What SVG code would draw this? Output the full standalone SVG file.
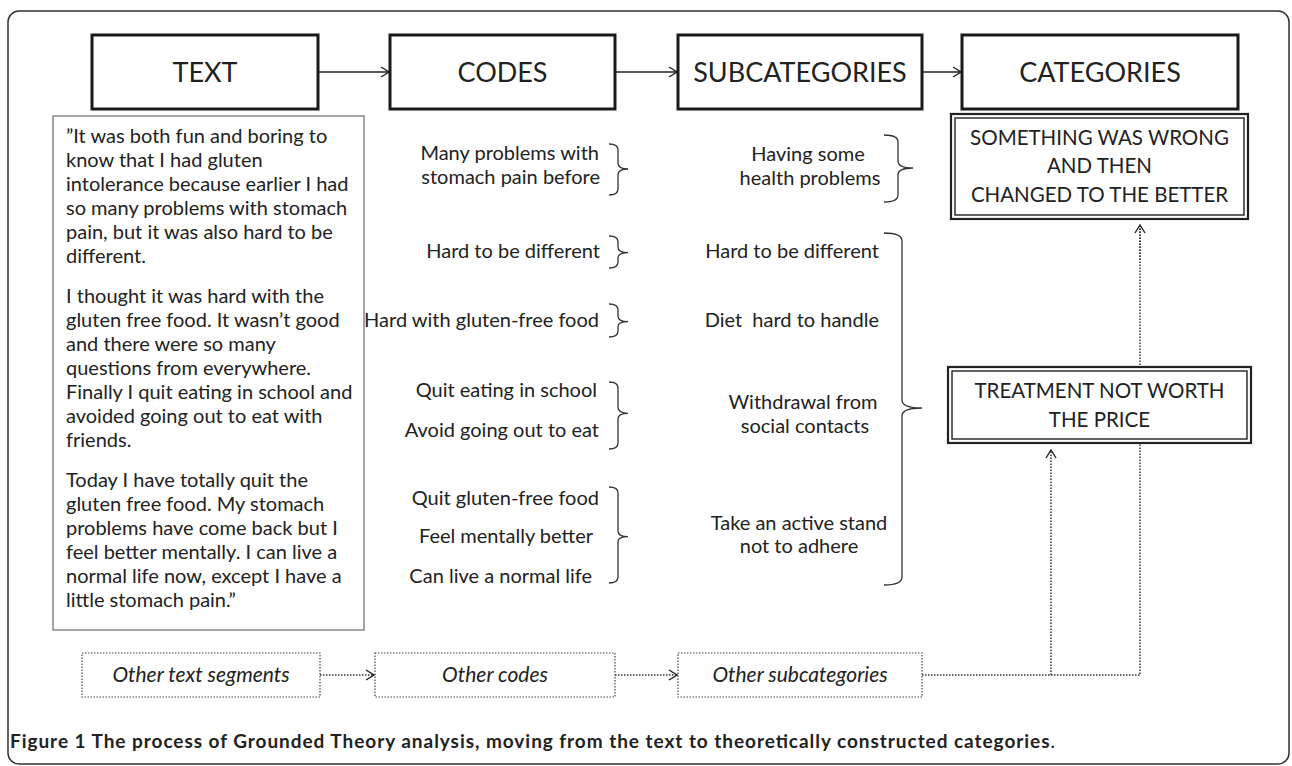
<svg xmlns="http://www.w3.org/2000/svg" width="1292" height="766" viewBox="0 0 1292 766">
<defs>
<style>
.frame{fill:none;stroke:#333;stroke-width:1.5}
.hbox{fill:#fff;stroke:#1a1a1a;stroke-width:3}
.htxt{font-family:Lato,"Liberation Sans",sans-serif;font-size:27px;fill:#222;text-anchor:middle}
.body{font-family:Lato,"Liberation Sans",sans-serif;font-size:20px;fill:#222}
.end{text-anchor:end}
.mid{text-anchor:middle}
.tbox{fill:#fff;stroke:#888;stroke-width:1.5}
.brace{fill:none;stroke:#333;stroke-width:1.3}
.dbo{fill:#fff;stroke:#222;stroke-width:2.2}
.dbi{fill:none;stroke:#222;stroke-width:1.4}
.ctxt{font-family:Lato,"Liberation Sans",sans-serif;font-size:20.5px;fill:#222;text-anchor:middle}
.conn{fill:none;stroke:#222;stroke-width:1.4}
.dot{fill:none;stroke:#333;stroke-width:1.5;stroke-dasharray:1.5 1.5}
.dbox{fill:#fff;stroke:#444;stroke-width:1.2;stroke-dasharray:1.5 1.5}
.itxt{font-family:Lato,"Liberation Sans",sans-serif;font-size:21px;font-style:italic;fill:#222;text-anchor:middle}
.cap{font-family:Lato,"Liberation Sans",sans-serif;font-size:19px;font-weight:bold;fill:#222}
</style>
<marker id="arr" markerWidth="10" markerHeight="12" refX="9" refY="6" orient="auto" markerUnits="userSpaceOnUse">
<path d="M1,1 L9,6 L1,11" fill="none" stroke="#222" stroke-width="1.4"/>
</marker>
</defs>
<rect width="1292" height="766" fill="#fff"/>
<rect class="frame" x="8" y="11" width="1281" height="753" rx="11"/>

<g id="connectors">
<line class="conn" x1="318" y1="72" x2="389" y2="72" marker-end="url(#arr)"/>
<line class="conn" x1="615" y1="72" x2="677" y2="72" marker-end="url(#arr)"/>
<line class="conn" x1="922" y1="72" x2="961" y2="72" marker-end="url(#arr)"/>
<path class="dot" d="M320,675 L374,675" marker-end="url(#arr)"/>
<path class="dot" d="M615,675 L677,675" marker-end="url(#arr)"/>
<path class="dot" d="M922,675 L1140,675 L1140,225"/>
<path class="dot" d="M1140,260 L1140,225" marker-end="url(#arr)"/>
<path class="dot" d="M1051,675 L1051,450" marker-end="url(#arr)"/>
</g>

<g id="h-text"><rect class="hbox" x="92" y="35" width="226" height="74"/><text class="htxt" x="205" y="82">TEXT</text></g>
<g id="h-codes"><rect class="hbox" x="390" y="35" width="225" height="74"/><text class="htxt" x="502.5" y="82">CODES</text></g>
<g id="h-subcategories"><rect class="hbox" x="678" y="35" width="244" height="74"/><text class="htxt" x="800" y="82">SUBCATEGORIES</text></g>
<g id="h-categories"><rect class="hbox" x="962" y="35" width="276" height="74"/><text class="htxt" x="1100" y="82">CATEGORIES</text></g>

<g id="text-box">
<rect class="tbox" x="53" y="116" width="311" height="514"/>
<text class="body">
<tspan x="66" y="143">”It was both fun and boring to</tspan>
<tspan x="66" y="167">know that I had gluten</tspan>
<tspan x="66" y="191">intolerance because earlier I had</tspan>
<tspan x="66" y="215">so many problems with stomach</tspan>
<tspan x="66" y="239">pain, but it was also hard to be</tspan>
<tspan x="66" y="263">different.</tspan>
<tspan x="66" y="303">I thought it was hard with the</tspan>
<tspan x="66" y="327">gluten free food. It wasn’t good</tspan>
<tspan x="66" y="351">and there were so many</tspan>
<tspan x="66" y="375">questions from everywhere.</tspan>
<tspan x="66" y="399">Finally I quit eating in school and</tspan>
<tspan x="66" y="423">avoided going out to eat with</tspan>
<tspan x="66" y="447">friends.</tspan>
<tspan x="66" y="487">Today I have totally quit the</tspan>
<tspan x="66" y="511">gluten free food. My stomach</tspan>
<tspan x="66" y="535">problems have come back but I</tspan>
<tspan x="66" y="559">feel better mentally. I can live a</tspan>
<tspan x="66" y="583">normal life now, except I have a</tspan>
<tspan x="66" y="607">little stomach pain.”</tspan>
</text>
</g>

<g id="code-1">
<text class="body end"><tspan x="599" y="160">Many problems with</tspan><tspan x="600" y="184">stomach pain before</tspan></text>
<path class="brace" d="M609,144 Q618,144 618,150 L618,163 Q618,169 628,169 Q618,169 618,175 L618,189 Q618,195 609,195"/>
</g>
<g id="code-2">
<text class="body end" x="600" y="258">Hard to be different</text>
<path class="brace" d="M609,236 Q618,236 618,242 L618,247 Q618,252.7 628,252.7 Q618,252.7 618,258 L618,262 Q618,268 609,268"/>
</g>
<g id="code-3">
<text class="body end" x="599" y="327">Hard with gluten-free food</text>
<path class="brace" d="M609,304 Q618,304 618,310 L618,316 Q618,321.7 628,321.7 Q618,321.7 618,327 L618,331 Q618,337 609,337"/>
</g>
<g id="code-4">
<text class="body end"><tspan x="597" y="397">Quit eating in school</tspan><tspan x="599" y="437">Avoid going out to eat</tspan></text>
<path class="brace" d="M609,382 Q618,382 618,388 L618,407 Q618,413.3 628,413.3 Q618,413.3 618,419 L618,443 Q618,449 609,449"/>
</g>
<g id="code-5">
<text class="body end"><tspan x="599" y="505">Quit gluten-free food</tspan><tspan x="593" y="543">Feel mentally better</tspan><tspan x="592" y="583">Can live a normal life</tspan></text>
<path class="brace" d="M609,487 Q618,487 618,493 L618,531 Q618,536.7 628,536.7 Q618,536.7 618,542 L618,577 Q618,583 609,583"/>
</g>

<g id="sub-1">
<text class="body mid"><tspan x="808" y="161">Having some</tspan><tspan x="810" y="185">health problems</tspan></text>
<path class="brace" d="M884,135 Q898,135 898,142 L898,161 Q898,168 913,168 Q898,168 898,175 L898,195 Q898,202 884,202"/>
</g>
<g id="sub-2"><text class="body end" x="879" y="258">Hard to be different</text></g>
<g id="sub-3"><text class="body end" x="879" y="327" xml:space="preserve">Diet  hard to handle</text></g>
<g id="sub-4"><text class="body mid"><tspan x="803" y="409">Withdrawal from</tspan><tspan x="805" y="433">social contacts</tspan></text></g>
<g id="sub-5"><text class="body mid"><tspan x="799" y="530">Take an active stand</tspan><tspan x="799" y="553">not to adhere</tspan></text></g>
<g id="sub-brace">
<path class="brace" d="M884,233 Q902,233 902,241 L902,400 Q902,408 922,408 Q902,408 902,416 L902,577 Q902,585 884,585"/>
</g>

<g id="cat-1">
<rect class="dbo" x="951" y="114" width="297" height="105"/>
<rect class="dbi" x="955" y="118" width="289" height="97"/>
<text class="ctxt"><tspan x="1099.5" y="145">SOMETHING WAS WRONG</tspan><tspan x="1099.5" y="173">AND THEN</tspan><tspan x="1099.5" y="202">CHANGED TO THE BETTER</tspan></text>
</g>
<g id="cat-2">
<rect class="dbo" x="948" y="367" width="303" height="76"/>
<rect class="dbi" x="952" y="371" width="295" height="68"/>
<text class="ctxt"><tspan x="1099.5" y="398">TREATMENT NOT WORTH</tspan><tspan x="1099.5" y="427">THE PRICE</tspan></text>
</g>

<g id="other-text"><rect class="dbox" x="82" y="653" width="238" height="44"/><text class="itxt" x="201" y="682">Other text segments</text></g>
<g id="other-codes"><rect class="dbox" x="375" y="653" width="240" height="44"/><text class="itxt" x="495" y="682">Other codes</text></g>
<g id="other-subcategories"><rect class="dbox" x="678" y="653" width="244" height="44"/><text class="itxt" x="800" y="682">Other subcategories</text></g>

<text class="cap" x="10" y="748" textLength="1045" lengthAdjust="spacing">Figure 1 The process of Grounded Theory analysis, moving from the text to theoretically constructed categories<tspan font-weight="normal">.</tspan></text>
</svg>
